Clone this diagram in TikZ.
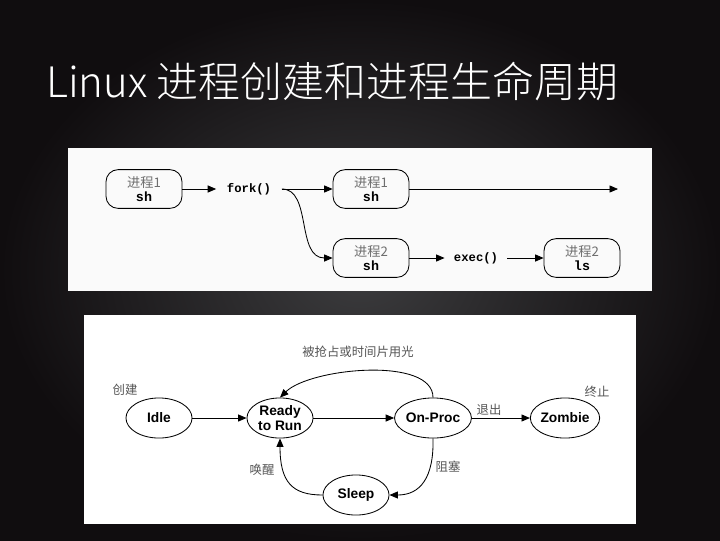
\documentclass[tikz,border=0pt]{standalone}
\usepackage{fontspec}
\setmainfont{Liberation Sans}
\newfontfamily\cjk{Noto Sans CJK SC}
\newfontfamily\cjklight{Noto Sans CJK SC Light}
\newfontfamily\monob{Liberation Mono}
\usetikzlibrary{arrows.meta,shapes.geometric}
\definecolor{slideDark}{RGB}{16,13,15}
\definecolor{slideMid}{RGB}{60,60,62}
\definecolor{labelGray}{RGB}{85,85,85}
\definecolor{procGray}{RGB}{110,110,110}
\newcommand\proctext[2]{{\cjk\fontsize{9.4}{10}\selectfont\color{procGray}#1}\\{\monob\bfseries\fontsize{9.5}{10}\selectfont #2}}

\begin{document}
\begin{tikzpicture}[x=0.025cm,y=-0.025cm,
    procbox/.style={draw,rounded corners=8.5pt,minimum width=54pt,minimum height=27.5pt,align=center,inner sep=0pt,line width=0.6pt,font=\fontsize{9}{9.8}\selectfont},
    callnode/.style={font=\monob\bfseries\fontsize{8.7}{10}\selectfont,inner ysep=2pt},
    state/.style={draw,ellipse,minimum width=47pt,minimum height=28.5pt,inner sep=0pt,align=center,line width=0.6pt,font=\bfseries\fontsize{9.8}{11}\selectfont},
    tag/.style={font=\cjk\fontsize{8.8}{10}\selectfont,text=labelGray},
    arrow/.style={-{Triangle[length=6pt,width=5pt]},line width=0.6pt}
  ]
    \useasboundingbox (0,0) rectangle (720,540);
    \shade[inner color=slideMid,outer color=slideDark] (0,0) rectangle (720,540);
    \node[anchor=base west,text=white,inner sep=0pt,font=\cjklight\fontsize{29.8}{32}\selectfont] (title) at (46,97) {Linux 进程创建和进程生命周期};
    % fork / exec
    \fill[white!98!black] (68,148) rectangle (652,291);
    \node[procbox] (p1) at (144,189) {\proctext{进程1}{sh}};
    \node[callnode,inner xsep=7.5pt] (fork) at (249,189) {fork()};
    \node[procbox] (p1b) at (371,189) {\proctext{进程1}{sh}};
    \coordinate (p1end) at (618,189);
    \node[procbox] (p2) at (371,258) {\proctext{进程2}{sh}};
    \node[callnode,inner xsep=6.5pt] (exec) at (476,258) {exec()};
    \node[procbox] (p2ls) at (582,258) {\proctext{进程2}{ls}};
    \draw[arrow] (p1) -- (fork);
    \draw[arrow] (fork) -- (p1b);
    \draw[arrow] (p1b) -- (p1end);
    \draw[arrow] (fork.east) .. controls (312,189) and (296,258) .. (p2.west);
    \draw[arrow] (p2) -- (exec);
    \draw[arrow] (exec) -- (p2ls);
    % life cycle
    \fill[white] (84,315) rectangle (636,524);
    \node[state] (idle) at (159,418) {Idle};
    \node[state] (ready) at (280,418) {Ready\\to Run};
    \node[state] (onproc) at (433,418) {On-Proc};
    \node[state] (zombie) at (565,418) {Zombie};
    \node[state] (sleep) at (356,495) {Sleep};
    \node[tag] (preempt) at (358,352) {被抢占或时间片用光};
    \node[tag] (create) at (125,390) {创建};
    \node[tag] (stop) at (597,392) {终止};
    \node[tag] (quit) at (489,410) {退出};
    \node[tag] (wake) at (262,470) {唤醒};
    \node[tag] (block) at (448,467) {阻塞};
    \draw[arrow] (idle) -- (ready);
    \draw[arrow] (ready) -- (onproc);
    \draw[arrow] (onproc) -- (zombie);
    \draw[arrow] (onproc.north) .. controls (433,356) and (310,368) .. (ready.north);
    \draw[arrow] (onproc.south) .. controls (434,478) and (420,495) .. (sleep.east);
    \draw[arrow] (sleep.west) .. controls (292,495) and (280,482) .. (ready.south);
  \end{tikzpicture}
\end{document}
